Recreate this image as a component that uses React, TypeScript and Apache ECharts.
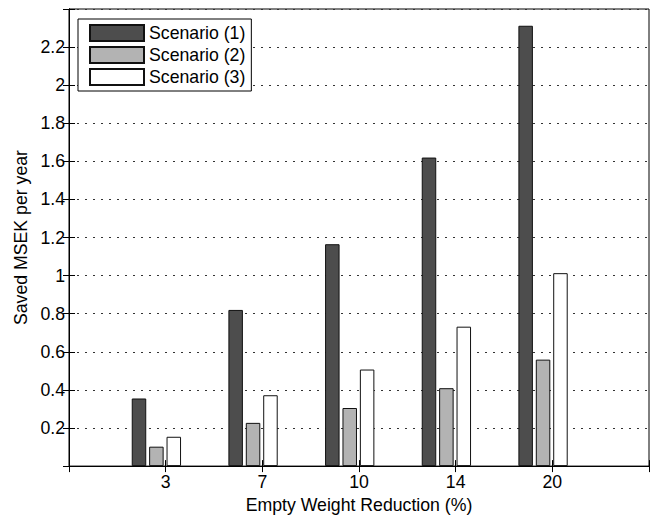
import React, { useEffect, useRef } from "react";
import * as echarts from "echarts";

// Empty-weight reduction levels (%) on the horizontal axis
const categories = ["3", "7", "10", "14", "20"];

// Savings in MSEK per year for each scenario
const scenario1 = [0.355, 0.82, 1.165, 1.62, 2.312];
const scenario2 = [0.102, 0.227, 0.305, 0.409, 0.559];
const scenario3 = [0.154, 0.372, 0.507, 0.732, 1.013];

const seriesNames = ["Scenario (1)", "Scenario (2)", "Scenario (3)"];

const FONT = "'Liberation Sans', Arial, Helvetica, sans-serif";
const FS = 17.7;
const INK = "#000";

export default function App() {
  const ref = useRef<HTMLDivElement>(null);

  useEffect(() => {
    if (!ref.current) return;
    const chart = echarts.init(ref.current, undefined, { renderer: "svg" });

    const toPoints = (vals: number[]) => vals.map((v, i) => [i + 1, v]);

    const yLabel = (v: number) =>
      v <= 1e-9 || v >= 2.4 - 1e-9 ? "" : String(+v.toFixed(1));
    const xLabel = (v: number) => categories[Math.round(v) - 1] ?? "";

    const dotted = { color: "#333", width: 1, type: [2, 6] as number[] };
    const axisLine = { show: true, lineStyle: { color: INK, width: 1 } };
    const innerTick = { show: true, inside: true, length: 6, lineStyle: { color: INK, width: 1 } };

    const barStyle = (fill: string) => ({
      color: fill,
      borderColor: "#111",
      borderWidth: 1,
    });

    chart.setOption({
      animation: false,
      backgroundColor: "#fff",
      textStyle: { fontFamily: FONT },
      grid: {
        left: 69,
        top: 9,
        width: 587,
        height: 462,
        show: true,
        backgroundColor: "#fff",
        borderColor: INK,
        borderWidth: 1,
      },
      legend: {
        data: seriesNames,
        orient: "vertical",
        left: 78,
        top: 19,
        itemWidth: 54,
        itemHeight: 16,
        itemGap: 4,
        padding: [5, 6, 5, 11],
        backgroundColor: "#fff",
        borderColor: INK,
        borderWidth: 1,
        icon: "rect",
        textStyle: { fontSize: FS, color: INK, fontFamily: FONT },
      },
      xAxis: [
        {
          type: "value",
          position: "bottom",
          min: 0,
          max: 6,
          interval: 1,
          axisLine,
          axisTick: innerTick,
          splitLine: { show: false },
          axisLabel: {
            formatter: xLabel,
            fontSize: FS,
            color: INK,
            margin: 7,
            fontFamily: FONT,
          },
          name: "Empty Weight Reduction (%)",
          nameLocation: "middle",
          nameGap: 29,
          nameTextStyle: { fontSize: FS, color: INK, fontFamily: FONT },
        },
        {
          type: "value",
          position: "top",
          min: 0,
          max: 6,
          interval: 1,
          axisLine,
          axisTick: innerTick,
          axisLabel: { show: false },
          splitLine: { show: false },
        },
        {
          // bar placement axis, offset slightly from the tick positions
          type: "value",
          show: false,
          min: 0.096,
          max: 6.096,
          splitLine: { show: false },
        },
      ],
      yAxis: [
        {
          type: "value",
          position: "left",
          min: 0,
          max: 2.4,
          interval: 0.2,
          axisLine,
          axisTick: innerTick,
          splitLine: { show: true, lineStyle: dotted },
          axisLabel: {
            formatter: yLabel,
            fontSize: FS,
            color: INK,
            margin: 4,
            fontFamily: FONT,
          },
          name: "Saved MSEK per year",
          nameLocation: "middle",
          nameGap: 32,
          nameTextStyle: { fontSize: FS, color: INK, fontFamily: FONT },
        },
        {
          type: "value",
          position: "right",
          min: 0,
          max: 2.4,
          interval: 0.2,
          axisLine,
          axisTick: innerTick,
          axisLabel: { show: false },
          splitLine: { show: false },
        },
      ],
      series: [
        {
          name: seriesNames[0],
          type: "bar",
          xAxisIndex: 2,
          yAxisIndex: 0,
          barWidth: 14.5,
          barGap: "20%",
          itemStyle: barStyle("#4d4d4d"),
          data: toPoints(scenario1),
        },
        {
          name: seriesNames[1],
          type: "bar",
          xAxisIndex: 2,
          yAxisIndex: 0,
          barWidth: 14.5,
          barGap: "20%",
          itemStyle: barStyle("#b3b3b3"),
          data: toPoints(scenario2),
        },
        {
          name: seriesNames[2],
          type: "bar",
          xAxisIndex: 2,
          yAxisIndex: 0,
          barWidth: 14.5,
          barGap: "20%",
          itemStyle: barStyle("#ffffff"),
          data: toPoints(scenario3),
        },
      ],
    });

    return () => chart.dispose();
  }, []);

  return (
    <div
      ref={ref}
      style={{ position: "fixed", left: 0, top: 0, width: 652, height: 519 }}
    />
  );
}
